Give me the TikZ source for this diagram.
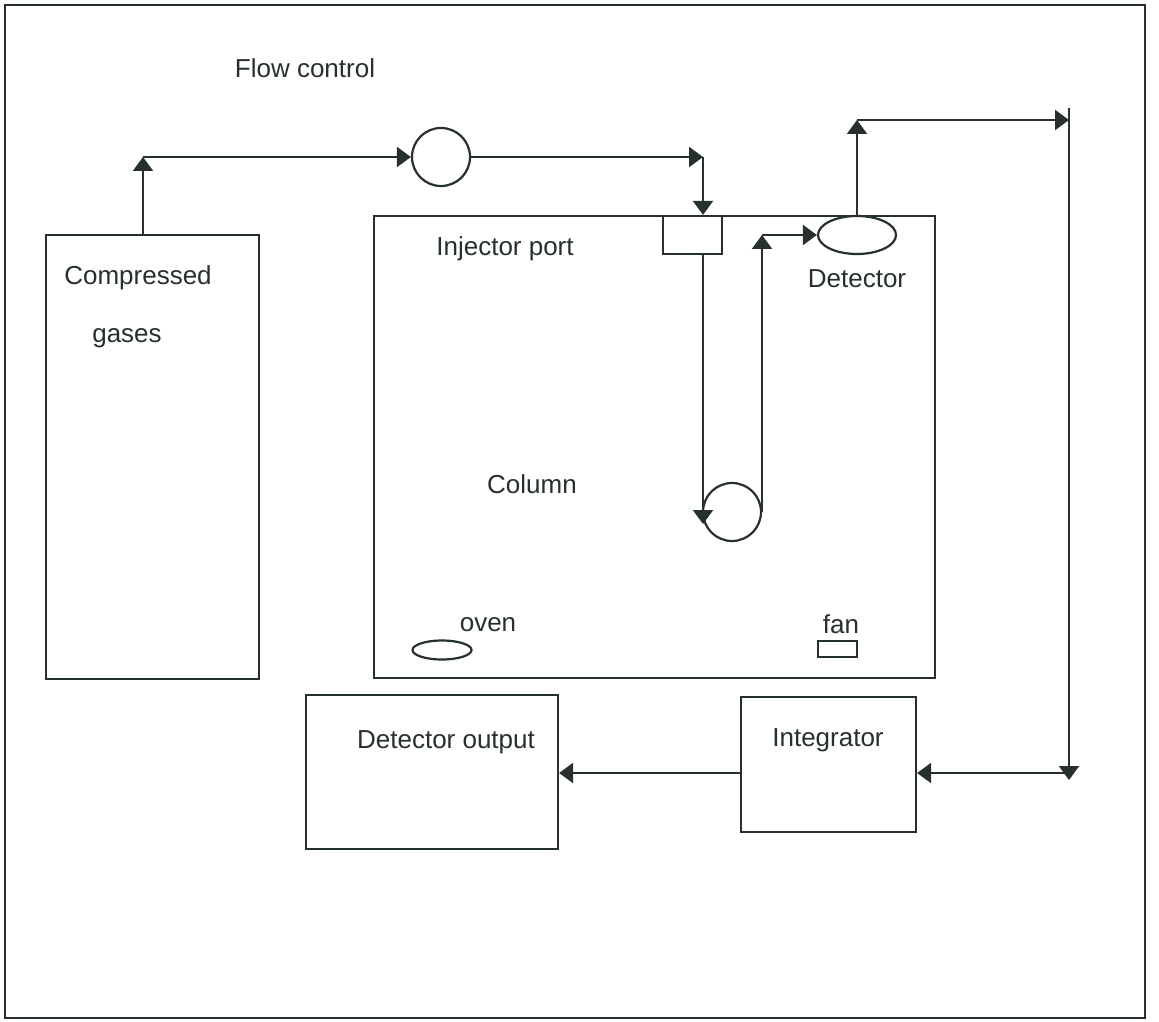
\documentclass[tikz,border=0pt]{standalone}
\usepackage{fontspec}
\setmainfont{Liberation Sans}
\usetikzlibrary{shapes.geometric,arrows.meta,positioning}
\definecolor{tinta}{RGB}{38,48,44}

\begin{document}
\begin{tikzpicture}[x=0.5pt, y=-0.5pt, line width=1.1pt, color=tinta,
            caja/.style={draw, rectangle, inner sep=0pt},
            redondo/.style={draw, circle, minimum size=29pt, inner sep=0pt},
            texto/.style={inner sep=0pt, font=\fontsize{13}{15}\selectfont},
            flecha/.style={-{Triangle[length=7pt,width=10pt]}}]

            \useasboundingbox (0,0) rectangle (1159,1021);
            % Marco
            \draw[line width=1.4pt] (5,5) rectangle (1145,1018);

            % Gases comprimidos
            \node[caja, minimum width=106.5pt, minimum height=222pt] (gas) at (152.5,457) {};
            \node[texto] (gastxt) at (138,278) {Compressed};
            \node[texto] (gastxtb) at (127,338) {gases};

            % Control de flujo
            \node[redondo] (flujo) at (441,157) {};
            \node[texto] (flujotxt) at (305,68) {Flow control};

            % Horno
            \node[caja, minimum width=280.5pt, minimum height=231pt] (horno) at (654.5,447) {};
            \node[caja, minimum width=29.5pt, minimum height=19pt] (inyector) at (692.5,235) {};
            \node[texto] (inytxt) at (505,249) {Injector port};
            \node[draw, ellipse, minimum width=39pt, minimum height=19pt, inner sep=0pt] (detector) at (857,235) {};
            \node[texto] (dettxt) at (857,279) {Detector};
            \node[redondo] (columna) at (732,512) {};
            \node[texto] (coltxt) at (532,484) {Column};
            \node[texto] (horntxt) at (488,625) {oven};
            \node[draw, ellipse, minimum width=29.5pt, minimum height=9.5pt, inner sep=0pt] (calor) at (442,650) {};
            \node[texto] (ventxt) at (841,624) {fan};
            \node[caja, minimum width=19.5pt, minimum height=8pt] (ventilador) at (837.5,649) {};

            % Salida
            \node[caja, minimum width=87.5pt, minimum height=67.5pt] (integ) at (828.5,764.5) {};
            \node[texto] (integtxt) at (828,740) {Integrator};
            \node[caja, minimum width=126pt, minimum height=77pt] (salida) at (432,772) {};
            \node[texto] (salidatxt) at (446,742) {Detector output};

            % Esquinas
            \coordinate (c1) at (143,157);
            \coordinate (c2) at (703,157);
            \coordinate (c3) at (762,235);
            \coordinate (c4) at (857,120);
            \coordinate (c5) at (1069,120);
            \coordinate (c5a) at (1069,108);
            \coordinate (c6) at (1069,780);
            \coordinate (c7) at (1069,773);
            \coordinate (colpunta) at (703,524);

            % Flechas
            \draw[flecha] (c1 |- gas.north) -- (c1);
            \draw[flecha] (c1) -- (flujo.west);
            \draw[flecha] (flujo.east) -- (c2);
            \draw[flecha] (c2) -- (c2 |- inyector.north);
            \draw[flecha] (c2 |- inyector.south) -- (colpunta);
            \draw[flecha] (c3 |- columna.east) -- (c3);
            \draw[flecha] (c3) -- (detector.west);
            \draw[flecha] (detector.north) -- (c4);
            \draw[flecha] (c4) -- (c5);
            \draw[flecha] (c5a) -- (c6);
            \draw[flecha] (c7) -- (integ.east |- c7);
            \draw[flecha] (integ.west |- c7) -- (salida.east |- c7);

        \end{tikzpicture}
\end{document}
